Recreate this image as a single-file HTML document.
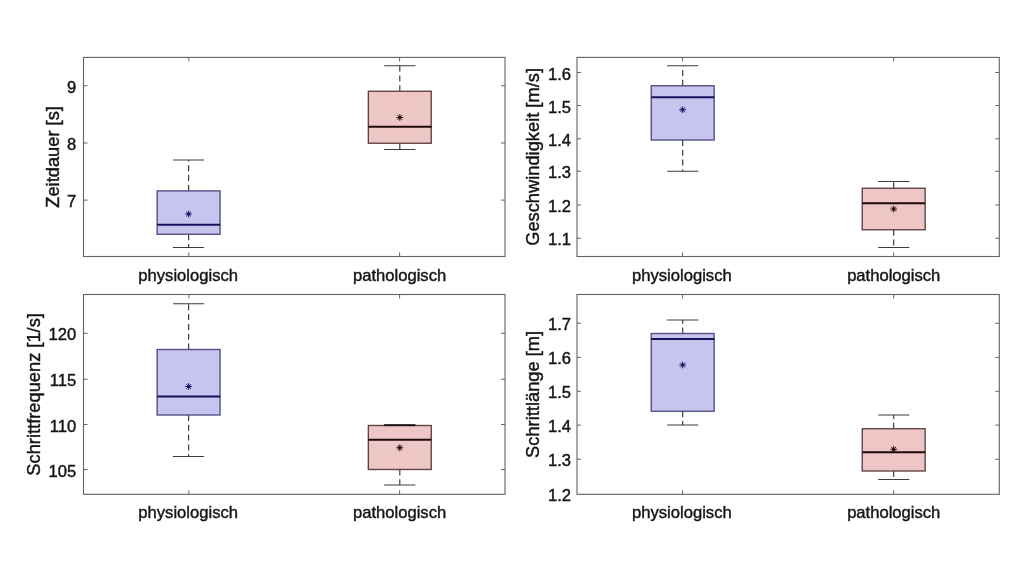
<!DOCTYPE html>
<html lang="de"><head><meta charset="utf-8"><title>Boxplots</title>
<style>
html,body{margin:0;padding:0;background:#fff;}
body{width:1024px;height:576px;overflow:hidden;}
svg{display:block;font-family:"Liberation Sans",Arial,sans-serif;}
text{stroke:#141414;stroke-width:0.42px;}
</style></head><body>
<svg width="1024" height="576" viewBox="0 0 1024 576">
<rect width="1024" height="576" fill="#ffffff"/>
<g><path d="M188.6 190.9V160M188.6 234.25V247.5" stroke="#3c3c3c" stroke-width="1.2" stroke-dasharray="6 3.8" fill="none"/>
<rect x="157.15" y="190.9" width="62.9" height="43.35" fill="#c7c4ee" stroke="#4c4a88" stroke-width="1.35"/>
<path d="M173.0 160H204.2M173.0 247.5H204.2" stroke="#3c3c3c" stroke-width="1.2" fill="none"/>
<path d="M157.15 224.8H220.05" stroke="#14145e" stroke-width="2" fill="none"/>
<path d="M185.20 214.00L192.00 214.00M186.20 211.60L191.00 216.40M188.60 210.60L188.60 217.40M191.00 211.60L186.20 216.40" stroke="#14145e" stroke-width="0.95" fill="none"/><circle cx="188.6" cy="214" r="1.4" fill="#14145e"/>
<path d="M399.8 91.25V65.75M399.8 143.25V149.5" stroke="#3c3c3c" stroke-width="1.2" stroke-dasharray="6 3.8" fill="none"/>
<rect x="368.35" y="91.25" width="62.9" height="52.00" fill="#efc6c6" stroke="#5e4040" stroke-width="1.35"/>
<path d="M384.2 65.75H415.40000000000003M384.2 149.5H415.40000000000003" stroke="#3c3c3c" stroke-width="1.2" fill="none"/>
<path d="M368.35 126.75H431.25" stroke="#1c0a0a" stroke-width="2" fill="none"/>
<path d="M396.40 117.50L403.20 117.50M397.40 115.10L402.20 119.90M399.80 114.10L399.80 120.90M402.20 115.10L397.40 119.90" stroke="#1c0a0a" stroke-width="0.95" fill="none"/><circle cx="399.8" cy="117.5" r="1.4" fill="#1c0a0a"/>
<rect x="83.5" y="57.4" width="421.50" height="199.10" fill="none" stroke="#626262" stroke-width="1.1"/>
<path d="M83.5 85.75h4M505.0 85.75h-4M83.5 143h4M505.0 143h-4M83.5 200.1h4M505.0 200.1h-4M188.88 57.4v4M188.88 256.5v-4M399.62 57.4v4M399.62 256.5v-4" stroke="#626262" stroke-width="1" fill="none"/>
<text x="76.3" y="92.75" text-anchor="end" font-size="16.6" fill="#141414">9</text>
<text x="76.3" y="150.00" text-anchor="end" font-size="16.6" fill="#141414">8</text>
<text x="76.3" y="207.10" text-anchor="end" font-size="16.6" fill="#141414">7</text>
<text x="188.18" y="280.50" text-anchor="middle" font-size="16.6" fill="#141414">physiologisch</text>
<text x="399.62" y="280.50" text-anchor="middle" font-size="16.6" fill="#141414">pathologisch</text>
<text transform="translate(58.5 156.95) rotate(-90)" text-anchor="middle" font-size="18.3" fill="#141414">Zeitdauer [s]</text></g>
<g><path d="M682.7 85.75V65.75M682.7 140V171.25" stroke="#3c3c3c" stroke-width="1.2" stroke-dasharray="6 3.8" fill="none"/>
<rect x="651.25" y="85.75" width="62.9" height="54.25" fill="#c7c4ee" stroke="#4c4a88" stroke-width="1.35"/>
<path d="M667.1 65.75H698.3000000000001M667.1 171.25H698.3000000000001" stroke="#3c3c3c" stroke-width="1.2" fill="none"/>
<path d="M651.25 97.25H714.15" stroke="#14145e" stroke-width="2" fill="none"/>
<path d="M679.30 109.75L686.10 109.75M680.30 107.35L685.10 112.15M682.70 106.35L682.70 113.15M685.10 107.35L680.30 112.15" stroke="#14145e" stroke-width="0.95" fill="none"/><circle cx="682.7" cy="109.75" r="1.4" fill="#14145e"/>
<path d="M893.7 188.25V181.5M893.7 229.75V247.5" stroke="#3c3c3c" stroke-width="1.2" stroke-dasharray="6 3.8" fill="none"/>
<rect x="862.25" y="188.25" width="62.9" height="41.50" fill="#efc6c6" stroke="#5e4040" stroke-width="1.35"/>
<path d="M878.1 181.5H909.3000000000001M878.1 247.5H909.3000000000001" stroke="#3c3c3c" stroke-width="1.2" fill="none"/>
<path d="M862.25 203.25H925.15" stroke="#1c0a0a" stroke-width="2" fill="none"/>
<path d="M890.30 209.00L897.10 209.00M891.30 206.60L896.10 211.40M893.70 205.60L893.70 212.40M896.10 206.60L891.30 211.40" stroke="#1c0a0a" stroke-width="0.95" fill="none"/><circle cx="893.7" cy="209" r="1.4" fill="#1c0a0a"/>
<rect x="577.0" y="57.4" width="422.30" height="199.10" fill="none" stroke="#626262" stroke-width="1.1"/>
<path d="M577.0 72.5h4M999.3 72.5h-4M577.0 105.5h4M999.3 105.5h-4M577.0 138.75h4M999.3 138.75h-4M577.0 171.25h4M999.3 171.25h-4M577.0 205h4M999.3 205h-4M577.0 238.25h4M999.3 238.25h-4M682.58 57.4v4M682.58 256.5v-4M893.72 57.4v4M893.72 256.5v-4" stroke="#626262" stroke-width="1" fill="none"/>
<text x="571.0" y="79.50" text-anchor="end" font-size="16.6" fill="#141414">1.6</text>
<text x="571.0" y="112.50" text-anchor="end" font-size="16.6" fill="#141414">1.5</text>
<text x="571.0" y="145.75" text-anchor="end" font-size="16.6" fill="#141414">1.4</text>
<text x="571.0" y="178.25" text-anchor="end" font-size="16.6" fill="#141414">1.3</text>
<text x="571.0" y="212.00" text-anchor="end" font-size="16.6" fill="#141414">1.2</text>
<text x="571.0" y="245.25" text-anchor="end" font-size="16.6" fill="#141414">1.1</text>
<text x="681.88" y="280.50" text-anchor="middle" font-size="16.6" fill="#141414">physiologisch</text>
<text x="893.72" y="280.50" text-anchor="middle" font-size="16.6" fill="#141414">pathologisch</text>
<text transform="translate(539.2 156.95) rotate(-90)" text-anchor="middle" font-size="18.3" fill="#141414">Geschwindigkeit [m/s]</text></g>
<g><path d="M188.6 349.5V303.75M188.6 415V456.5" stroke="#3c3c3c" stroke-width="1.2" stroke-dasharray="6 3.8" fill="none"/>
<rect x="157.15" y="349.5" width="62.9" height="65.50" fill="#c7c4ee" stroke="#4c4a88" stroke-width="1.35"/>
<path d="M173.0 303.75H204.2M173.0 456.5H204.2" stroke="#3c3c3c" stroke-width="1.2" fill="none"/>
<path d="M157.15 396.5H220.05" stroke="#14145e" stroke-width="2" fill="none"/>
<path d="M185.20 386.50L192.00 386.50M186.20 384.10L191.00 388.90M188.60 383.10L188.60 389.90M191.00 384.10L186.20 388.90" stroke="#14145e" stroke-width="0.95" fill="none"/><circle cx="188.6" cy="386.5" r="1.4" fill="#14145e"/>
<path d="M399.8 425.5V425.2M399.8 469.5V485" stroke="#3c3c3c" stroke-width="1.2" stroke-dasharray="6 3.8" fill="none"/>
<rect x="368.35" y="425.5" width="62.9" height="44.00" fill="#efc6c6" stroke="#5e4040" stroke-width="1.35"/>
<path d="M384.2 425.2H415.40000000000003M384.2 485H415.40000000000003" stroke="#3c3c3c" stroke-width="1.2" fill="none"/>
<path d="M384.2 425.2H415.40000000000003" stroke="#1a1212" stroke-width="1.8" fill="none"/>
<path d="M368.35 439.75H431.25" stroke="#1c0a0a" stroke-width="2" fill="none"/>
<path d="M396.40 447.75L403.20 447.75M397.40 445.35L402.20 450.15M399.80 444.35L399.80 451.15M402.20 445.35L397.40 450.15" stroke="#1c0a0a" stroke-width="0.95" fill="none"/><circle cx="399.8" cy="447.75" r="1.4" fill="#1c0a0a"/>
<rect x="83.5" y="294.5" width="421.50" height="199.80" fill="none" stroke="#626262" stroke-width="1.1"/>
<path d="M83.5 333.3h4M505.0 333.3h-4M83.5 379.25h4M505.0 379.25h-4M83.5 424.5h4M505.0 424.5h-4M83.5 469.6h4M505.0 469.6h-4M188.88 294.5v4M188.88 494.3v-4M399.62 294.5v4M399.62 494.3v-4" stroke="#626262" stroke-width="1" fill="none"/>
<text x="76.3" y="340.30" text-anchor="end" font-size="16.6" fill="#141414">120</text>
<text x="76.3" y="386.25" text-anchor="end" font-size="16.6" fill="#141414">115</text>
<text x="76.3" y="431.50" text-anchor="end" font-size="16.6" fill="#141414">110</text>
<text x="76.3" y="476.60" text-anchor="end" font-size="16.6" fill="#141414">105</text>
<text x="188.18" y="518.30" text-anchor="middle" font-size="16.6" fill="#141414">physiologisch</text>
<text x="399.62" y="518.30" text-anchor="middle" font-size="16.6" fill="#141414">pathologisch</text>
<text transform="translate(40.2 394.40) rotate(-90)" text-anchor="middle" font-size="18.3" fill="#141414">Schrittfrequenz [1/s]</text></g>
<g><path d="M682.7 333.5V320M682.7 411.25V425" stroke="#3c3c3c" stroke-width="1.2" stroke-dasharray="6 3.8" fill="none"/>
<rect x="651.25" y="333.5" width="62.9" height="77.75" fill="#c7c4ee" stroke="#4c4a88" stroke-width="1.35"/>
<path d="M667.1 320H698.3000000000001M667.1 425H698.3000000000001" stroke="#3c3c3c" stroke-width="1.2" fill="none"/>
<path d="M651.25 339H714.15" stroke="#14145e" stroke-width="2" fill="none"/>
<path d="M679.30 365.00L686.10 365.00M680.30 362.60L685.10 367.40M682.70 361.60L682.70 368.40M685.10 362.60L680.30 367.40" stroke="#14145e" stroke-width="0.95" fill="none"/><circle cx="682.7" cy="365" r="1.4" fill="#14145e"/>
<path d="M893.7 428.75V415M893.7 471V479.5" stroke="#3c3c3c" stroke-width="1.2" stroke-dasharray="6 3.8" fill="none"/>
<rect x="862.25" y="428.75" width="62.9" height="42.25" fill="#efc6c6" stroke="#5e4040" stroke-width="1.35"/>
<path d="M878.1 415H909.3000000000001M878.1 479.5H909.3000000000001" stroke="#3c3c3c" stroke-width="1.2" fill="none"/>
<path d="M862.25 452.25H925.15" stroke="#1c0a0a" stroke-width="2" fill="none"/>
<path d="M890.30 449.25L897.10 449.25M891.30 446.85L896.10 451.65M893.70 445.85L893.70 452.65M896.10 446.85L891.30 451.65" stroke="#1c0a0a" stroke-width="0.95" fill="none"/><circle cx="893.7" cy="449.25" r="1.4" fill="#1c0a0a"/>
<rect x="577.0" y="294.5" width="422.30" height="199.80" fill="none" stroke="#626262" stroke-width="1.1"/>
<path d="M577.0 323.25h4M999.3 323.25h-4M577.0 357.4h4M999.3 357.4h-4M577.0 391.25h4M999.3 391.25h-4M577.0 425.1h4M999.3 425.1h-4M577.0 459.25h4M999.3 459.25h-4M682.58 294.5v4M682.58 494.3v-4M893.72 294.5v4M893.72 494.3v-4" stroke="#626262" stroke-width="1" fill="none"/>
<text x="571.0" y="330.25" text-anchor="end" font-size="16.6" fill="#141414">1.7</text>
<text x="571.0" y="364.40" text-anchor="end" font-size="16.6" fill="#141414">1.6</text>
<text x="571.0" y="398.25" text-anchor="end" font-size="16.6" fill="#141414">1.5</text>
<text x="571.0" y="432.10" text-anchor="end" font-size="16.6" fill="#141414">1.4</text>
<text x="571.0" y="466.25" text-anchor="end" font-size="16.6" fill="#141414">1.3</text>
<text x="571.0" y="500.60" text-anchor="end" font-size="16.6" fill="#141414">1.2</text>
<text x="681.88" y="518.30" text-anchor="middle" font-size="16.6" fill="#141414">physiologisch</text>
<text x="893.72" y="518.30" text-anchor="middle" font-size="16.6" fill="#141414">pathologisch</text>
<text transform="translate(539.2 394.40) rotate(-90)" text-anchor="middle" font-size="18.3" fill="#141414">Schrittlänge [m]</text></g>
</svg>
</body></html>
